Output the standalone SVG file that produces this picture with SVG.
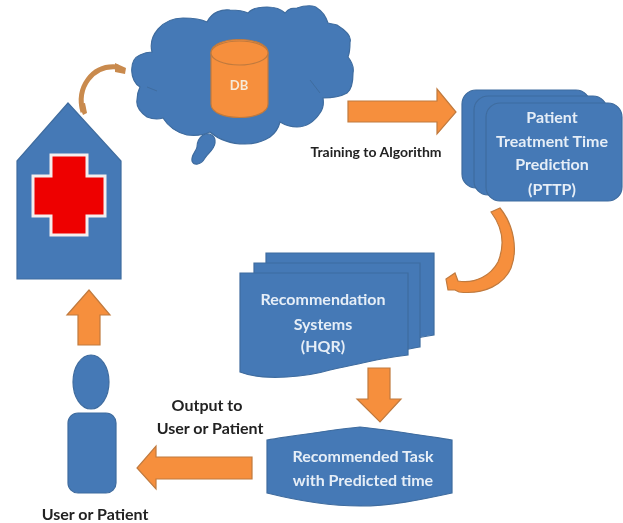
<svg xmlns="http://www.w3.org/2000/svg" width="623" height="523" viewBox="0 0 623 523">
<defs>
<filter id="soft" x="-2%" y="-2%" width="104%" height="104%"><feGaussianBlur stdDeviation="0.55"/></filter>
</defs>
<style>
.b{fill:#4579b6;stroke:#3f6c9f;stroke-width:1.2}
.o{fill:#f68f3c;stroke:#c07a3e;stroke-width:1.2}
text{font-family:Lato,"Liberation Sans",sans-serif;font-weight:700;text-anchor:middle}
.w{fill:#e6eef7;font-size:16px}
.k{fill:#222;font-size:16px}
</style>
<rect width="623" height="523" fill="#fff"/>
<g filter="url(#soft)">
<g id="house">
<path class="b" d="M17 161 68 103 121 161V279H17Z"/>
<path d="M51 155H87V176H105V216H87V235H51V216H33V176H51Z" fill="#ee0000" stroke="#f4eeee" stroke-width="3"/>
</g>
<g id="cloud">
<path class="b" d="M140 87C130 82 128 60 140 55C144 53 148 52 152 52C148 36 162 18 183 18C192 18 201 19 207 22C212 12 222 9 230 10C238 10 244 11 248 13C252 8 260 7 267 7C274 7 281 9 285 13C289 8 293 8 297 8C305 5 315 5 317 8C322 11 326 17 328 23C331 24 334 24 337 25C345 30 352 36 350 42C350 47 350 52 348 57C352 62 354 68 353 73C353 84 351 90 347 93C340 97 332 98 323 98C324 104 323 109 320 113C314 122 306 127 297 127C290 127 285 125 280 122C278 130 274 134 270 137C262 142 254 144 245 144C230 144 218 139 210 132C204 135 196 136 187 135C175 132 168 126 163 118C157 120 152 119 147 117C140 112 136 106 137 100C137 95 138 91 140 87Z"/>
<path class="b" d="M203 135C210 132 216 136 215 143C214 150 208 153 205 158C201 165 194 166 192 161C191 155 196 152 197 147C197 142 199 138 203 135Z"/>
<path d="M147 87 157 91M310 80 320 93" fill="none" stroke="#3f6c9f" stroke-width="1"/>
</g>
<g id="db">
<path class="o" d="M211 53C211 35 268 35 268 53V104C268 122 211 122 211 104Z"/>
<ellipse class="o" cx="239.500" cy="53" rx="28.500" ry="12"/>
<text x="239" y="90" style="fill:#f6ead9;font-size:13px">DB</text>
</g>
<g id="pttp">
<rect class="b" x="462" y="90" width="128" height="98" rx="14"/>
<rect class="b" x="474" y="96" width="133" height="99" rx="14"/>
<rect class="b" x="486" y="103" width="136" height="98" rx="14"/>
<text class="w" x="552" y="123">Patient</text>
<text class="w" x="552" y="147">Treatment Time</text>
<text class="w" x="552" y="170">Prediction</text>
<text class="w" x="552" y="195">(PTTP)</text>
</g>
<g id="hqr">
<path class="b" d="M266 253H434V335C425 336 420 337 410 340H266Z"/>
<path class="b" d="M254 263H420V347C415 348 411 348 400 351H254Z"/>
<path class="b" d="M240 273H408V355C392 357 380 359 367 362C355 365 342 367 330 370C310 376 265 382 240 372Z"/>
<text class="w" x="323" y="305">Recommendation</text>
<text class="w" x="323" y="330">Systems</text>
<text class="w" x="323" y="352">(HQR)</text>
</g>
<g id="task">
<path class="b" d="M267 440C300 435 330 430 360 427C390 430 420 435 452 440V493C420 500 390 506 360 506C330 506 295 500 267 493Z"/>
<text class="w" x="363" y="462">Recommended Task</text>
<text class="w" x="363" y="486">with Predicted time</text>
</g>
<g id="user">
<ellipse class="b" cx="91" cy="382" rx="18" ry="27"/>
<rect class="b" x="68" y="413" width="48" height="80" rx="10"/>
<text class="k" x="95" y="520">User or Patient</text>
</g>
<g id="connectors">
<path d="M83 112C76 88 92 64 118 67" fill="none" stroke="#c98a4e" stroke-width="5"/>
<path d="M115 63 126 68 125 74 115 72Z" fill="#c98a4e"/>
<path d="M79 104 85 103 87 113 83 115Z" fill="#c98a4e"/>
<path class="o" d="M348 101H437V89L456 112 437 134V122H348Z"/>
<path class="o" d="M491 212 500 208C514 225 518 250 511 268C504 284 485 295 459 292L455 290 448 290 446 279 455 273 458 281C476 284 491 275 498 262C505 245 503 228 491 212Z"/>
<path class="o" d="M368 368H390V399H401L380 422 357 399H368Z"/>
<path class="o" d="M252 457V479H156V489L137 468 156 446V457Z"/>
<path class="o" d="M78 345V315H67L89 290 110 315H100V345Z"/>
</g>
<g id="labels">
<text class="k" x="376" y="157" style="font-size:14px">Training to Algorithm</text>
<text class="k" x="207" y="411">Output to</text>
<text class="k" x="210" y="434">User or Patient</text>
</g>
</g>
</svg>
